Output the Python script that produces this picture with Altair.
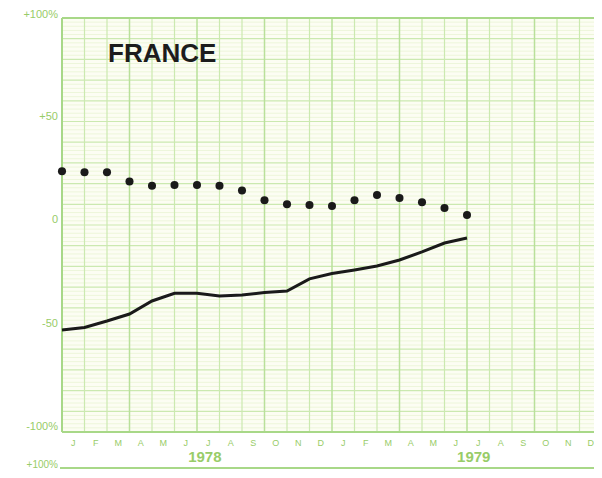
import altair as alt
import pandas as pd

# ---- data ----
month_idx = list(range(19))  # Jan 1978 ... Jul 1979 (month boundaries)
dots_values = [26, 25.5, 25.5, 21, 19, 19.3, 19.3, 19, 16.7, 12, 10, 9.7, 9.2, 12, 14.5, 13, 11, 8.2, 4.8]
line_values = [-50.7, -49.5, -46.4, -43, -36.7, -33, -33, -34.3, -33.8, -32.6, -31.9, -26, -23.4, -21.7, -19.8, -16.9, -13, -8.7, -6.3]
month_letters = list("JFMAMJJASOND") * 2
years = ["1978", "1979"]
year_pos = [6.35, 18.3]
y_ticks = [100, 50, 0, -50, -100]
y_tick_labels = ["+100%", "+50", "0", "-50", "-100%"]
y_tick_dy = [-3, -5, -5, -5, -5]
title_text = "FRANCE"

MONTH_PX = 22.5
W, H = 532, 414
XMAX = W / MONTH_PX
GREEN_TXT = "#98cc68"
GREEN_BORDER = "#a8d888"
GREEN_MAJOR = "#cbe9b0"
GREEN_Q = "#b9e09a"
GREEN_MINOR = "#edf6da"

xs = alt.Scale(domain=[0, XMAX], nice=False, zero=False)
ys = alt.Scale(domain=[-100, 100], nice=False, zero=False)


def X(f):
    return alt.X(f"{f}:Q", scale=xs, axis=None)


def Y(f):
    return alt.Y(f"{f}:Q", scale=ys, axis=None)


minor_h = pd.DataFrame({"v": [v for v in range(-100, 101, 2) if v % 10 != 0]})
major_h = pd.DataFrame({"v": list(range(-90, 100, 10))})
month_v = pd.DataFrame({"m": [m for m in range(1, 24) if m % 3 != 0]})
quarter_v = pd.DataFrame({"m": [m for m in range(3, 24, 3)]})
border_h = pd.DataFrame({"v": [100, -100]})

series = pd.DataFrame({"m": month_idx, "dots": dots_values, "line": line_values})
mlab = pd.DataFrame({"mc": [i + 0.5 for i in range(24)], "t": month_letters})
ylab = pd.DataFrame({"yp": year_pos, "t": years})
ttl = pd.DataFrame({"t": [title_text]})

ytl_layers = [
    alt.Chart(pd.DataFrame({"v": [v], "t": [t]})).mark_text(
        align="right", baseline="middle", dy=d, fontSize=11, color=GREEN_TXT, font="Liberation Sans"
    ).encode(x=alt.value(-4), y=Y("v"), text="t:N")
    for v, t, d in zip(y_ticks, y_tick_labels, y_tick_dy)
]

layers = [
    alt.Chart(minor_h).mark_rule(color=GREEN_MINOR, strokeWidth=1).encode(y=Y("v")),
    alt.Chart(major_h).mark_rule(color=GREEN_MAJOR, strokeWidth=1.2).encode(y=Y("v")),
    alt.Chart(month_v).mark_rule(color=GREEN_MAJOR, strokeWidth=1.2).encode(x=X("m")),
    alt.Chart(quarter_v).mark_rule(color=GREEN_Q, strokeWidth=1.5).encode(x=X("m")),
    alt.Chart(border_h).mark_rule(color=GREEN_BORDER, strokeWidth=2).encode(y=Y("v")),
    alt.Chart(pd.DataFrame({"m": [0]})).mark_rule(color=GREEN_BORDER, strokeWidth=2).encode(x=X("m")),
    alt.Chart(series).mark_line(color="#1a1a1a", strokeWidth=3).encode(x=X("m"), y=Y("line")),
    alt.Chart(series).mark_point(filled=True, color="#1a1a1a", size=65, opacity=1).encode(x=X("m"), y=Y("dots")),
    *ytl_layers,
    alt.Chart(mlab).mark_text(align="center", baseline="middle", fontSize=9, color=GREEN_TXT,
                              font="Liberation Sans").encode(x=X("mc"), y=alt.value(425), text="t:N"),
    alt.Chart(ylab).mark_text(align="center", baseline="middle", fontSize=15, fontWeight="bold",
                              color=GREEN_TXT, font="Liberation Sans").encode(x=X("yp"), y=alt.value(439), text="t:N"),
    alt.Chart(ttl).mark_text(align="left", baseline="middle", fontSize=26, fontWeight="bold",
                             color="#1c1c1c", font="Liberation Sans").encode(x=alt.value(46), y=alt.value(36), text="t:N"),
    alt.Chart(pd.DataFrame({"t": ["+100%"]})).mark_text(align="right", baseline="middle", fontSize=10,
                                                       color=GREEN_TXT, font="Liberation Sans").encode(
        x=alt.value(-4), y=alt.value(447), text="t:N"),
    alt.Chart(pd.DataFrame({"t": ["x"]})).mark_rule(color=GREEN_BORDER, strokeWidth=2).encode(
        x=alt.value(-2), x2=alt.value(W), y=alt.value(450)),
]

chart = alt.layer(*layers).properties(
    width=W,
    height=H,
    padding={"left": 54, "top": 10, "right": 0, "bottom": 38},
    autosize=alt.AutoSizeParams(type="none"),
    background="white",
).configure_view(stroke=None, fill="#fcfdf3")

chart.save("out.html", embed_options={"renderer": "svg", "actions": False})
